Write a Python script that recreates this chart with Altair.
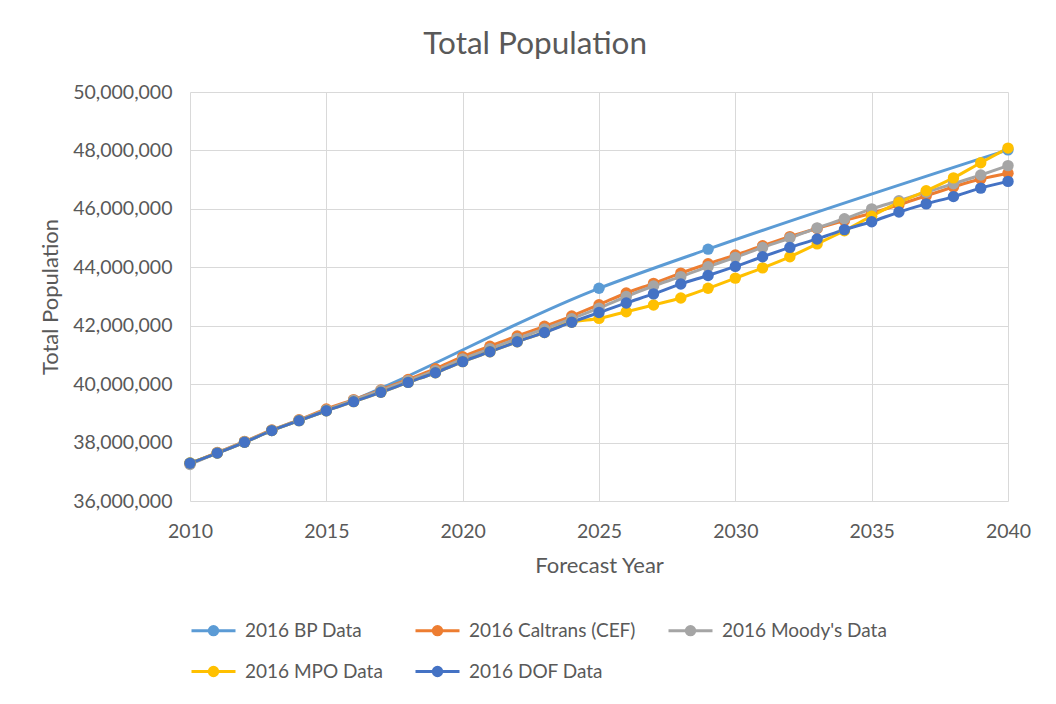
import altair as alt
import pandas as pd

years = list(range(2010, 2041))

series_names = ["2016 BP Data", "2016 Caltrans (CEF)", "2016 Moody's Data",
                "2016 MPO Data", "2016 DOF Data"]
series_colors = ["#5B9BD5", "#ED7D31", "#A5A5A5", "#FFC000", "#4472C4"]

bp_years = [2010, 2011, 2012, 2013, 2014, 2015, 2025, 2029, 2040]
bp_values = [37300000, 37640000, 38010000, 38410000, 38750000, 39090000,
             43280000, 44620000, 48020000]

caltrans_values = [37280000, 37660000, 38040000, 38430000, 38780000, 39150000,
                   39470000, 39800000, 40160000, 40530000, 40940000, 41300000,
                   41650000, 41980000, 42330000, 42720000, 43120000, 43450000,
                   43800000, 44120000, 44420000, 44740000, 45050000, 45330000,
                   45600000, 45850000, 46140000, 46450000, 46750000, 47020000,
                   47220000]

moodys_values = [37250000, 37650000, 38030000, 38420000, 38770000, 39120000,
                 39450000, 39780000, 40120000, 40460000, 40860000, 41210000,
                 41560000, 41890000, 42240000, 42600000, 43000000, 43360000,
                 43680000, 44020000, 44340000, 44680000, 45000000, 45350000,
                 45660000, 46000000, 46280000, 46570000, 46860000, 47160000,
                 47480000]

mpo_values = [37300000, 37640000, 38010000, 38410000, 38750000, 39090000,
              39400000, 39720000, 40060000, 40390000, 40770000, 41110000,
              41450000, 41770000, 42120000, 42250000, 42480000, 42710000,
              42950000, 43280000, 43630000, 43980000, 44360000, 44800000,
              45250000, 45750000, 46220000, 46620000, 47060000, 47580000,
              48080000]

dof_values = [37290000, 37640000, 38010000, 38410000, 38750000, 39090000,
              39400000, 39720000, 40060000, 40390000, 40770000, 41110000,
              41450000, 41770000, 42120000, 42450000, 42780000, 43090000,
              43430000, 43720000, 44030000, 44360000, 44680000, 44970000,
              45290000, 45560000, 45890000, 46170000, 46420000, 46710000,
              46940000]

y_ticks = [36000000, 38000000, 40000000, 42000000, 44000000, 46000000,
           48000000, 50000000]
x_ticks = [2010, 2015, 2020, 2025, 2030, 2035, 2040]

rows = []
for yr, v in zip(bp_years, bp_values):
    rows.append({"Year": yr, "Population": v, "Series": series_names[0]})
for name, vals in zip(series_names[1:], [caltrans_values, moodys_values,
                                          mpo_values, dof_values]):
    for yr, v in zip(years, vals):
        rows.append({"Year": yr, "Population": v, "Series": name})
df = pd.DataFrame(rows)

FONT = "Lato"
GREY = "#595959"

# legend glyph: a horizontal line with a dot (concentric rings, all stroked)
legend_symbol = ("M-1,0 L1,0 "
                 "M-0.05,0 A0.05,0.05 0 1,1 0.05,0 A0.05,0.05 0 1,1 -0.05,0 "
                 "M-0.1,0 A0.1,0.1 0 1,1 0.1,0 A0.1,0.1 0 1,1 -0.1,0 "
                 "M-0.15,0 A0.15,0.15 0 1,1 0.15,0 A0.15,0.15 0 1,1 -0.15,0 "
                 "M-0.19,0 A0.19,0.19 0 1,1 0.19,0 A0.19,0.19 0 1,1 -0.19,0")

chart = alt.Chart(df).mark_line(
    strokeWidth=3, interpolate="monotone",
    point=alt.OverlayMarkDef(filled=True, size=130, opacity=1),
).encode(
    x=alt.X("Year:Q", scale=alt.Scale(domain=[2010, 2040], nice=False),
            axis=alt.Axis(values=x_ticks, format="d", title="Forecast Year",
                          labelPadding=21, titlePadding=15, labelFlush=False)),
    y=alt.Y("Population:Q", scale=alt.Scale(domain=[36000000, 50000000], nice=False),
            axis=alt.Axis(values=y_ticks, format=",d", title="Total Population",
                          labelPadding=18, titlePadding=10)),
    color=alt.Color("Series:N",
                    scale=alt.Scale(domain=series_names, range=series_colors),
                    legend=alt.Legend(title=None, orient="bottom", columns=3,
                                      symbolType=legend_symbol, symbolSize=1936,
                                      symbolStrokeWidth=3,
                                      labelFontSize=19, labelFont=FONT,
                                      labelColor=GREY, labelLimit=400,
                                      labelOffset=8, columnPadding=26,
                                      rowPadding=7, offset=30)),
).properties(
    width=818, height=409,
    title=alt.TitleParams("Total Population", fontSize=31.5, font=FONT,
                          fontWeight="normal", color=GREY, anchor="middle",
                          frame="bounds", offset=22),
    padding={"left": 31, "top": 20, "right": 10, "bottom": 0},
).configure_view(stroke=None).configure_axis(
    grid=True, gridColor="#D9D9D9", gridWidth=1, domain=False, ticks=False,
    labelFont=FONT, labelFontSize=19.5, labelColor=GREY,
    titleFont=FONT, titleFontSize=22, titleColor=GREY, titleFontWeight="normal",
)

chart.save("out.html", embed_options={"renderer": "svg", "actions": False})
